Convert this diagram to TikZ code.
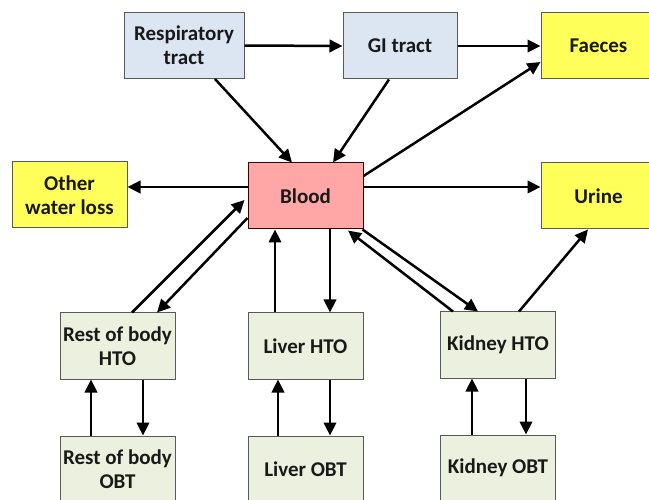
\documentclass[tikz,border=0pt]{standalone}
\usepackage{fontspec}
\setsansfont{Carlito}
\usetikzlibrary{arrows.meta}
\definecolor{tractblue}{RGB}{220,230,242}
\definecolor{outyellow}{RGB}{255,255,90}
\definecolor{bloodpink}{RGB}{255,166,166}
\definecolor{organgreen}{RGB}{235,241,222}
\tikzset{%
    box/.style={%
        draw=black!65, line width=1pt, align=center,
        minimum width=115pt, minimum height=66pt, inner xsep=0pt,
        font=\sffamily\bfseries\fontsize{21}{24}\selectfont, text=black!90
    },
    flow/.style={%
        line width=2.5pt, -{Triangle[length=13pt,width=12.5pt]}
    }
}

\begin{document}
\begin{tikzpicture}[x=1pt, y=-1pt]
\useasboundingbox (0,0) rectangle (649,500);
\clip (0,0) rectangle (649,500);
% top row
\node [box, fill=tractblue, minimum width=120pt] (resp) at (184,45.5) {Respiratory\\tract};
\node [box, fill=tractblue, minimum width=114pt] (gi) at (400,46) {GI tract};
\node [box, fill=outyellow] (faeces) at (598.5,46) {Faeces};
% middle row
\node [box, fill=outyellow] (other) at (69.5,195) {Other\\water loss};
\node [box, fill=bloodpink, draw=black!75!red] (blood) at (305.5,196) {Blood};
\node [box, fill=outyellow] (urine) at (598.5,196) {Urine};
% organs
\node [box, fill=organgreen] (resthto) at (117.5,346) {Rest of body\\HTO};
\node [box, fill=organgreen] (liverhto) at (305.5,346) {Liver HTO};
\node [box, fill=organgreen] (kidhto) at (498,345) {Kidney HTO};
\node [box, fill=organgreen] (restobt) at (117.5,469) {Rest of body\\OBT};
\node [box, fill=organgreen] (liverobt) at (305.5,469) {Liver OBT};
\node [box, fill=organgreen] (kidobt) at (498,468) {Kidney OBT};

\coordinate (bl) at ([yshift=9pt]blood.west);
\coordinate (br) at ([yshift=9pt]blood.east);

% intake
\draw [flow] (resp.east) -- (gi.west);
\draw [flow] (gi.east) -- (faeces.west);
\draw [flow] ([xshift=31pt]resp.south) -- ([xshift=-13.5pt]blood.north);
\draw [flow] ([xshift=-11pt]gi.south) -- ([xshift=27.5pt]blood.north);
% losses
\draw [flow] ([yshift=20pt]blood.east) -- ([yshift=-16pt]faeces.west);
\draw [flow] (bl) -- (bl -| other.east);
\draw [flow] (br) -- (br -| urine.west);
\draw [flow] ([xshift=21pt]kidhto.north) -- ([xshift=-10.5pt]urine.south);
% blood <-> HTO
\draw [flow] ([xshift=14.5pt]resthto.north) -- ([xshift=-3pt,yshift=-4pt]blood.west);
\draw [flow] ([yshift=-22pt]blood.west) -- ([xshift=39.5pt]resthto.north);
\draw [flow] ([xshift=-30.5pt]liverhto.north) -- ([xshift=-30.5pt]blood.south);
\draw [flow] ([xshift=24.5pt]blood.south) -- ([xshift=24.5pt]liverhto.north);
\draw [flow] ([xshift=-45pt]kidhto.north) -- ([xshift=42.5pt,yshift=-1pt]blood.south);
\draw [flow] ([xshift=-1pt]blood.south east) -- ([xshift=-20pt]kidhto.north);
% HTO <-> OBT
\draw [flow] ([xshift=-26.5pt]restobt.north) -- ([xshift=-26.5pt]resthto.south);
\draw [flow] ([xshift=25.5pt]resthto.south) -- ([xshift=25.5pt]restobt.north);
\draw [flow] ([xshift=-27.5pt]liverobt.north) -- ([xshift=-27.5pt]liverhto.south);
\draw [flow] ([xshift=24.5pt]liverhto.south) -- ([xshift=24.5pt]liverobt.north);
\draw [flow] ([xshift=-26pt]kidobt.north) -- ([xshift=-26pt]kidhto.south);
\draw [flow] ([xshift=28pt]kidhto.south) -- ([xshift=28pt]kidobt.north);
\end{tikzpicture}
\end{document}
